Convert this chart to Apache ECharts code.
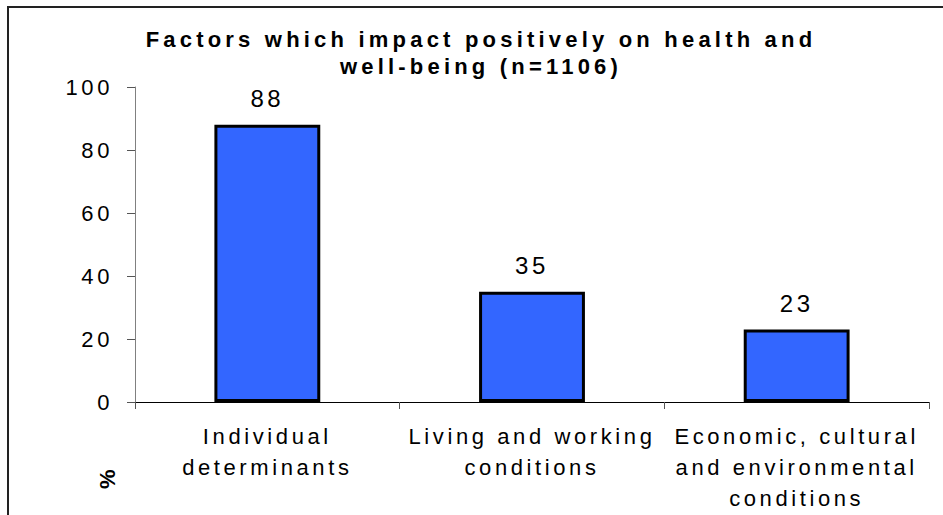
<!DOCTYPE html>
<html><head><meta charset="utf-8">
<script src="https://cdn.jsdelivr.net/npm/echarts@6/dist/echarts.min.js"></script>
<style>
html,body{margin:0;padding:0;background:#fff}
#main{width:943px;height:515px}
#main text{letter-spacing:3.6px}
#main text[style*="bold"]{letter-spacing:4.2px}
</style>
</head><body><div id="main"></div><script>
const titleLines = ['Factors which impact positively on health and', 'well-being (n=1106)'];
const categories = ['Individual\ndeterminants', 'Living and working\nconditions', 'Economic, cultural\nand environmental\nconditions'];
const values = [88, 35, 23];
const yMin = 0, yMax = 100, yStep = 20;
const yName = '%';

const FONT = '"Liberation Sans", Arial, Helvetica, sans-serif';
const chart = echarts.init(document.getElementById('main'), null, {renderer: 'svg'});
chart.setOption({
  animation: false,
  backgroundColor: '#fff',
  title: {
    text: titleLines.join('\n'),
    left: 481, top: 26, textAlign: 'center', padding: 0,
    textStyle: {fontFamily: FONT, fontWeight: 'bold', fontSize: 22, lineHeight: 27, color: '#000'}
  },
  grid: {left: 135, right: 14, top: 87, bottom: 113, containLabel: false},
  xAxis: {
    type: 'category', data: categories,
    axisLine: {lineStyle: {color: '#000', width: 1}},
    axisTick: {show: true, length: 7, lineStyle: {color: '#555'}},
    axisLabel: {interval: 0, margin: 19, fontFamily: FONT, fontSize: 22, lineHeight: 31, color: '#000', align: 'center'},
    splitLine: {show: false}
  },
  yAxis: {
    type: 'value', min: yMin, max: yMax, interval: yStep,
    axisLine: {show: true, lineStyle: {color: '#808080', width: 1}},
    axisTick: {show: true, length: 8, lineStyle: {color: '#555'}},
    axisLabel: {margin: 22, fontFamily: FONT, fontSize: 22, color: '#000'},
    splitLine: {show: false}
  },
  graphic: [
    {type: 'rect', silent: true, z: -1, shape: {x: 8, y: 7, width: 1000, height: 600},
     style: {fill: 'none', stroke: '#222', lineWidth: 2}},
    {type: 'text', x: 107, y: 477, rotation: Math.PI / 2,
     style: {text: yName, fontFamily: FONT, fontWeight: 'bold', fontSize: 22, fill: '#000', align: 'center', verticalAlign: 'middle'}}
  ],
  series: [{
    type: 'bar', data: values, barWidth: '40%',
    itemStyle: {color: '#3366FF', borderColor: '#000', borderWidth: 3},
    label: {show: true, position: 'top', distance: 14, fontFamily: FONT, fontSize: 24, color: '#000'}
  }]
});
</script></body></html>
